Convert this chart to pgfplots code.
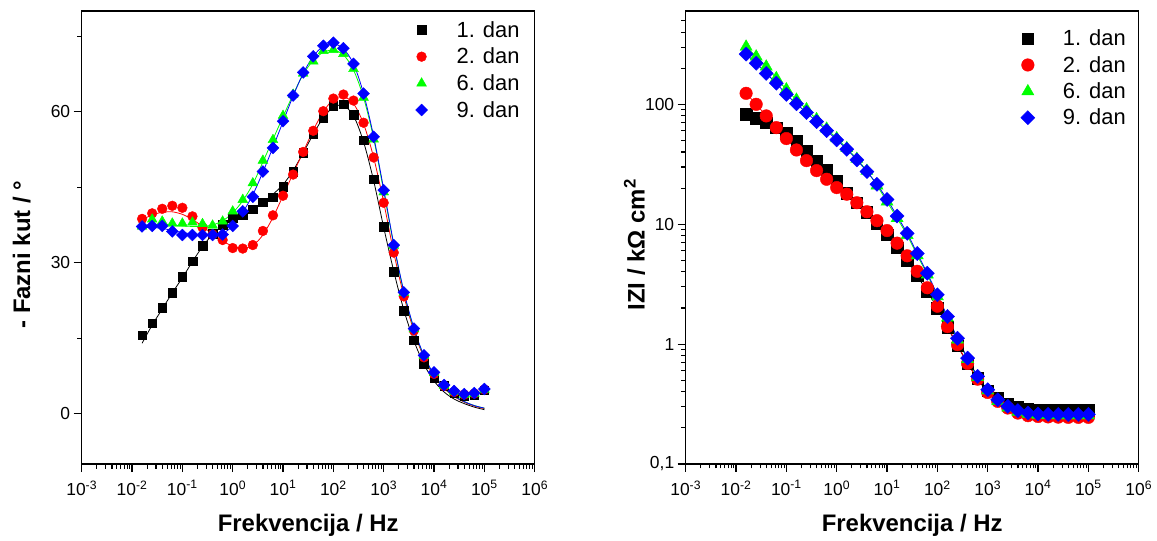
\documentclass[border=0pt]{standalone}
\usepackage{fontspec}
\setmainfont{Liberation Sans}
\usepackage{pgfplots}
\pgfplotsset{compat=1.18}
\usepackage{pgfplotstable}

\pgfplotstableread{
f p1 p2 p6 p9 q1 q2 q6 q9
0.01585 15.6 38.7 37.2 37.2 14.0 38.5 37.3 37.0
0.02512 18.0 39.8 38.6 37.3 17.6 39.5 37.6 37.0
0.03981 21.0 40.7 38.2 37.3 20.8 40.0 37.6 36.8
0.06310 24.0 41.3 37.8 36.2 24.0 40.1 37.5 36.4
0.1 27.2 40.9 37.8 35.5 27.0 39.6 37.3 36.0
0.1585 30.3 39.2 38.0 35.5 30.2 38.6 37.2 35.7
0.2512 33.4 37.0 37.7 35.5 33.2 37.2 37.2 35.5
0.3981 35.8 35.6 37.4 35.5 35.6 35.7 37.5 35.5
0.6310 37.6 34.5 38.2 35.6 37.4 34.3 38.3 35.8
1 38.8 32.9 40.2 37.3 38.6 33.3 39.9 37.3
1.585 39.5 32.8 42.5 40.2 39.6 32.9 42.3 40.0
2.512 40.6 33.5 45.8 43.1 40.7 33.4 45.6 43.5
3.981 42.0 36.3 50.3 48.1 42.0 35.5 50.0 48.0
6.310 43.0 39.4 54.4 52.8 43.6 39.0 54.5 52.9
10 45.1 43.3 59.2 58.1 45.5 43.3 59.0 58.0
15.85 48.1 47.5 63.4 63.2 48.3 47.7 63.4 63.1
25.12 51.8 52.0 67.6 67.8 51.8 52.0 67.4 67.6
39.81 55.5 56.2 70.0 71.0 55.5 56.3 70.2 71.0
63.10 58.8 60.1 72.1 73.1 58.8 60.0 71.8 73.0
100 61.2 62.6 72.3 73.7 60.9 62.4 72.2 73.5
158.5 61.5 63.4 71.5 72.6 61.2 63.0 71.3 72.5
251.2 59.4 62.2 68.5 69.5 59.2 61.6 68.3 69.5
398.1 54.3 57.8 62.8 63.6 54.0 57.6 62.8 63.6
631.0 46.6 50.9 54.5 55.0 46.3 50.9 54.7 55.1
1000 37.1 41.9 44.0 44.4 37.0 42.0 44.2 44.6
1585 28.2 32.0 33.4 33.5 28.3 32.0 33.5 33.7
2512 20.5 23.3 24.0 24.1 20.6 23.4 24.1 24.3
3981 14.6 16.5 16.8 16.9 14.5 16.4 16.8 17.0
6310 9.9 11.2 11.5 11.6 9.8 11.1 11.4 11.5
10000 7.2 7.9 8.1 8.2 6.5 7.4 7.7 7.8
15850 5.5 5.5 5.6 5.7 4.3 5.0 5.1 5.2
25120 4.1 4.3 4.4 4.5 2.9 3.4 3.5 3.5
39810 3.5 3.8 3.8 3.9 2.0 2.3 2.4 2.4
63100 3.7 4.0 4.0 4.1 1.3 1.5 1.6 1.6
100000 4.7 4.8 4.8 4.9 0.8 1.0 1.1 1.1
}\phase

\pgfplotstableread{
f z1 z2 z6 z9
0.01585 82.6 123.5 302 262
0.02512 76.4 100 250 220
0.03981 70.3 80 206 181
0.06310 63.9 63.9 165 150
0.1 57.2 51.8 133 121
0.1585 49.2 41.6 109 101
0.2512 41.1 33.9 90.8 85.3
0.3981 33.9 28.0 75 71.7
0.6310 28.2 23.7 62.5 60.4
1 23.0 20.2 52 50.5
1.585 18.1 17.8 43 42.2
2.512 15.1 15.1 35 34.4
3.981 12.6 12.7 27.8 27.5
6.310 10.1 10.7 21 21.5
10 8.15 8.85 15.4 16.1
15.85 6.4 6.95 11.2 11.7
25.12 5.0 5.45 8.1 8.4
39.81 3.7 4.05 5.5 5.7
63.10 2.75 2.95 3.8 3.9
100 2.0 2.07 2.5 2.58
158.5 1.38 1.40 1.66 1.70
251.2 0.97 0.99 1.09 1.12
398.1 0.69 0.69 0.75 0.764
631.0 0.52 0.51 0.53 0.538
1000 0.41 0.395 0.41 0.416
1585 0.355 0.333 0.335 0.343
2512 0.32 0.293 0.295 0.303
3981 0.30 0.266 0.272 0.279
6310 0.29 0.253 0.262 0.266
10000 0.285 0.249 0.257 0.261
15850 0.283 0.247 0.255 0.259
25120 0.282 0.246 0.254 0.259
39810 0.281 0.245 0.254 0.259
63100 0.28 0.245 0.254 0.259
100000 0.28 0.245 0.254 0.259
}\imp

\definecolor{cblk}{RGB}{0,0,0}
\definecolor{cred}{RGB}{255,0,0}
\definecolor{cgrn}{RGB}{0,255,0}
\definecolor{cblu}{RGB}{0,0,255}

\pgfplotsset{
  every axis/.append style={
    width=453bp, height=453bp, scale only axis,
    xmin=1e-3, xmax=1e6,
    xtick={1e-3,1e-2,1e-1,1,10,100,1000,1e4,1e5,1e6},
    xticklabels={10\textsuperscript{-3},10\textsuperscript{-2},10\textsuperscript{-1},10\textsuperscript{0},10\textsuperscript{1},10\textsuperscript{2},10\textsuperscript{3},10\textsuperscript{4},10\textsuperscript{5},10\textsuperscript{6}},
    minor xtick={2e-3,3e-3,4e-3,5e-3,6e-3,7e-3,8e-3,9e-3,
      2e-2,3e-2,4e-2,5e-2,6e-2,7e-2,8e-2,9e-2,
      0.2,0.3,0.4,0.5,0.6,0.7,0.8,0.9,
      2,3,4,5,6,7,8,9,
      20,30,40,50,60,70,80,90,
      200,300,400,500,600,700,800,900,
      2e3,3e3,4e3,5e3,6e3,7e3,8e3,9e3,
      2e4,3e4,4e4,5e4,6e4,7e4,8e4,9e4,
      2e5,3e5,4e5,5e5,6e5,7e5,8e5,9e5},
    tick align=outside, xtick pos=bottom, ytick pos=left,
    major tick length=8bp, minor tick length=4.5bp,
    axis line style={line width=1.4bp},
    every tick/.style={line width=1.1bp, black},
    tick label style={font=\fontsize{17.5}{17.5}\selectfont},
    xticklabel style={yshift=-5bp},
    legend cell align=left,
    legend image code/.code={\path[draw=none,fill=none] (0bp,0bp) -- (41bp,0bp); \draw[##1] plot coordinates {(6bp,0bp)};},
  },
}

\begin{document}
\begin{tikzpicture}
\useasboundingbox (-81.7bp,-76.7bp) rectangle (1075.3bp,464bp);

\begin{axis}[xmode=log, at={(0bp,0bp)}, anchor=south west,
  ymin=-10, ymax=80, ytick={0,30,60}, yticklabels={0,30,60},
  minor ytick={15,45,75},
  xlabel style={at={(axis description cs:0.5,-0.136)}, anchor=center,
      font=\bfseries\fontsize{24}{28}\selectfont},
  ylabel style={at={(axis description cs:-0.1325,0.462)}, anchor=center,
      font=\bfseries\fontsize{24}{28}\selectfont},
  xlabel={Frekvencija / Hz}, ylabel={- Fazni kut / °},
  legend style={draw=none, fill=none, inner sep=0pt, at={(rel axis cs:0.967,0.981)}, anchor=north east,
     font=\fontsize{22}{24}\selectfont, row sep=6.3bp, nodes={inner xsep=0pt, inner ysep=1.5bp}},
]
\addplot[smooth, line width=0.8bp, no marks, forget plot, cblk] table[x=f, y=q1] {\phase};
\addplot[smooth, line width=0.8bp, no marks, forget plot, cred] table[x=f, y=q2] {\phase};
\addplot[smooth, line width=0.8bp, no marks, forget plot, cgrn] table[x=f, y=q6] {\phase};
\addplot[smooth, line width=0.8bp, no marks, forget plot, cblu] table[x=f, y=q9] {\phase};
\addplot[only marks, mark=square*, mark size=4.3bp, cblk] table[x=f, y=p1] {\phase};
\addlegendentry{1. dan}
\addplot[only marks, mark=*, mark size=4.9bp, cred] table[x=f, y=p2] {\phase};
\addlegendentry{2. dan}
\addplot[only marks, mark=triangle*, mark size=5.7bp, cgrn] table[x=f, y=p6] {\phase};
\addlegendentry{6. dan}
\addplot[only marks, mark=square*, mark options={rotate=45}, mark size=4.2bp, cblu] table[x=f, y=p9] {\phase};
\addlegendentry{9. dan}
\end{axis}

\begin{axis}[xmode=log, ymode=log, at={(604bp,0bp)}, anchor=south west,
  ymin=0.1, ymax=600,
  ytick={0.1,1,10,100}, yticklabels={{0,1},1,10,100},
  minor ytick={0.2,0.3,0.4,0.5,0.6,0.7,0.8,0.9,2,3,4,5,6,7,8,9,20,30,40,50,60,70,80,90,200,300,400,500},
  xlabel style={at={(axis description cs:0.5,-0.136)}, anchor=center,
      font=\bfseries\fontsize{24}{28}\selectfont},
  ylabel style={at={(axis description cs:-0.113,0.484)}, anchor=center,
      font=\bfseries\fontsize{24}{28}\selectfont},
  xlabel={Frekvencija / Hz}, ylabel={IZI / kΩ cm\textsuperscript{2}},
  legend style={draw=none, fill=none, inner sep=0pt, at={(rel axis cs:0.972,0.962)}, anchor=north east,
     font=\fontsize{22}{24}\selectfont, row sep=6bp, nodes={inner xsep=0pt, inner ysep=1.5bp}},
]
\addplot[smooth, line width=0.8bp, no marks, forget plot, cblk] table[x=f, y=z1] {\imp};
\addplot[smooth, line width=0.8bp, no marks, forget plot, cred] table[x=f, y=z2] {\imp};
\addplot[smooth, line width=0.8bp, no marks, forget plot, cgrn] table[x=f, y=z6] {\imp};
\addplot[smooth, line width=0.8bp, no marks, forget plot, cblu] table[x=f, y=z9] {\imp};
\addplot[only marks, mark=square*, mark size=5.7bp, cblk] table[x=f, y=z1] {\imp};
\addlegendentry{1. dan}
\addplot[only marks, mark=*, mark size=6.3bp, cred] table[x=f, y=z2] {\imp};
\addlegendentry{2. dan}
\addplot[only marks, mark=triangle*, mark size=7bp, cgrn] table[x=f, y=z6] {\imp};
\addlegendentry{6. dan}
\addplot[only marks, mark=square*, mark options={rotate=45}, mark size=5bp, cblu] table[x=f, y=z9] {\imp};
\addlegendentry{9. dan}
\end{axis}
\end{tikzpicture}
\end{document}
